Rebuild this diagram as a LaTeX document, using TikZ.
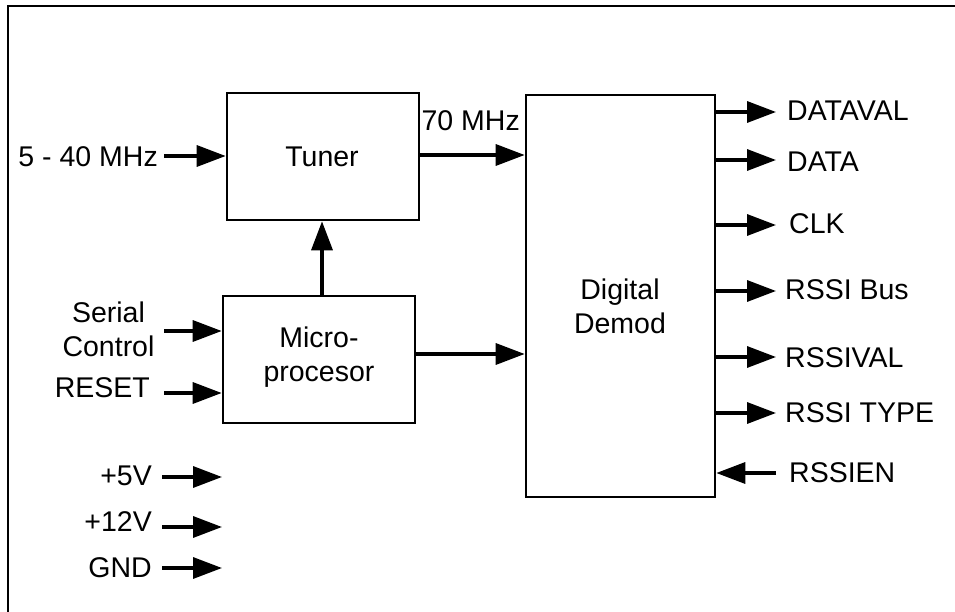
\documentclass[tikz,border=0pt]{standalone}
\usepackage{fontspec}
\setmainfont{Liberation Sans}
\usetikzlibrary{arrows.meta}
\begin{document}
\begin{tikzpicture}[x=1pt,y=-1pt,
  box/.style={draw, line width=2.6pt, inner sep=0pt},
  lbl/.style={font=\fontsize{28.5}{34}\selectfont, inner sep=0pt, text height=20.4pt, text depth=0pt},
  mlbl/.style={font=\fontsize{28.5}{34}\selectfont, inner sep=0pt, align=center},
  sig/.style={line width=3.4pt, -{Triangle[length=29pt,width=21pt]}},
]
\useasboundingbox (0,0) rectangle (955,612);
\draw[line width=2.6pt] (8,640) -- (8,6) -- (990,6);

% boxes
\node[box, minimum width=192pt, minimum height=127pt] (tuner) at (323,156.5) {};
\node[lbl] (tunertxt) at (322,156) {Tuner};
\node[box, minimum width=192pt, minimum height=127pt] (micro) at (319,359.5) {};
\node[mlbl] (microtxt) at (319,357) {Micro-\\procesor};
\node[box, minimum width=189pt, minimum height=402pt] (demod) at (620.5,296) {};
\node[mlbl] (demodtxt) at (620,306) {Digital\\Demod};

% tuner input
\node[lbl, anchor=east] (f540) at (158,156) {5 - 40 MHz};
\coordinate (s540) at (164,156);
\draw[sig] (s540) -- (tuner.west |- s540);

% tuner -> demod
\node[lbl, anchor=east] (f70) at (520,120) {70 MHz};
\coordinate (y154) at (0,155);
\draw[sig] (tuner.east |- y154) -- (demod.west |- y154);

% micro -> tuner
\coordinate (x322) at (322,0);
\draw[sig] (micro.north -| x322) -- (tuner.south -| x322);

% micro -> demod
\coordinate (y354) at (0,354);
\draw[sig] (micro.east |- y354) -- (demod.west |- y354);

% micro inputs
\node[mlbl] (serial) at (108.5,329) {Serial\\Control};
\coordinate (ssc) at (164,331);
\draw[sig] (ssc) -- (micro.west |- ssc);
\node[lbl, anchor=east] (reset) at (150,387.5) {RESET};
\coordinate (srs) at (164,393);
\draw[sig] (srs) -- (micro.west |- srs);

% power
\node[lbl, anchor=east] (p5) at (152,475) {+5V};
\coordinate (p5a) at (162,477);
\coordinate (p5b) at (222,477);
\draw[sig] (p5a) -- (p5b);
\node[lbl, anchor=east] (p12) at (152,521.5) {+12V};
\coordinate (p12a) at (162,527);
\coordinate (p12b) at (222,527);
\draw[sig] (p12a) -- (p12b);
\node[lbl, anchor=east] (gnd) at (152,567.5) {GND};
\coordinate (gnda) at (162,568);
\coordinate (gndb) at (222,568);
\draw[sig] (gnda) -- (gndb);

% demod outputs
\node[lbl, anchor=west] (dataval) at (787,110) {DATAVAL};
\coordinate (o1) at (776,112);
\draw[sig] (demod.east |- o1) -- (o1);
\node[lbl, anchor=west] (data) at (787,161.5) {DATA};
\coordinate (o2) at (776,160);
\draw[sig] (demod.east |- o2) -- (o2);
\node[lbl, anchor=west] (clk) at (789,223.5) {CLK};
\coordinate (o3) at (776,225);
\draw[sig] (demod.east |- o3) -- (o3);
\node[lbl, anchor=west] (rssibus) at (785,289) {RSSI Bus};
\coordinate (o4) at (776,291);
\draw[sig] (demod.east |- o4) -- (o4);
\node[lbl, anchor=west] (rssival) at (785,357) {RSSIVAL};
\coordinate (o5) at (776,357);
\draw[sig] (demod.east |- o5) -- (o5);
\node[lbl, anchor=west] (rssitype) at (785,412) {RSSI TYPE};
\coordinate (o6) at (776,413);
\draw[sig] (demod.east |- o6) -- (o6);
\node[lbl, anchor=west] (rssien) at (789,472) {RSSIEN};
\coordinate (i7) at (776,473);
\draw[sig] (i7) -- (demod.east |- i7);
\end{tikzpicture}
\end{document}
